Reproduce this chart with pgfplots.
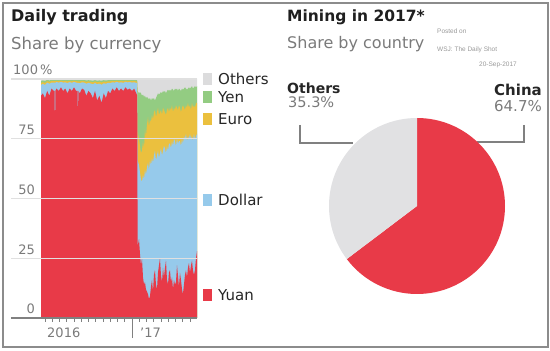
\documentclass[border=0pt]{standalone}
\usepackage{pgfplots}
\pgfplotsset{compat=1.18}
\usepackage{pgfplotstable}
\usepackage{fontspec}
\setmainfont{DejaVu Sans}
\newfontfamily\smallfont{Liberation Sans}
\definecolor{yuan}{HTML}{E83A48}
\definecolor{dollar}{HTML}{96CAEB}
\definecolor{euro}{HTML}{EBC03E}
\definecolor{yen}{HTML}{93CC82}
\definecolor{oth}{HTML}{DCDCDD}
\definecolor{piegray}{HTML}{E1E1E3}
\definecolor{txtgray}{HTML}{7A7A7A}
\definecolor{framec}{HTML}{8C8C8C}

% cumulative shares (percent): yuan, +dollar, +euro, +yen, +others
\pgfplotstableread{
m yuan dol eur yen all
-0.55 93 97.5 98.3 99.2 100
-0.30 94 98.0 98.7 99.4 100
0.00 92 97.5 98.3 99.2 100
0.30 95 98.5 99.1 99.6 100
0.60 93 98.0 98.8 99.4 100
0.90 96 98.5 99.1 99.6 100
1.20 95 98.5 99.1 99.6 100
1.33 95 98.5 99.1 99.6 100
1.38 69 98.5 99.1 99.6 100
1.43 95 98.5 99.1 99.6 100
1.60 96 98.7 99.2 99.6 100
1.90 95 98.5 99.1 99.6 100
2.20 96.5 98.8 99.3 99.7 100
2.50 95 98.5 99.1 99.6 100
2.80 96 98.6 99.2 99.6 100
3.10 94 98.3 99.0 99.5 100
3.40 96 98.7 99.2 99.6 100
3.70 95 98.4 99.0 99.5 100
4.00 96.5 98.8 99.3 99.7 100
4.30 95 98.5 99.1 99.6 100
4.50 95 98.4 99.0 99.5 100
4.55 78 98.4 99.0 99.5 100
4.60 95 98.4 99.0 99.5 100
4.80 94 98.2 98.9 99.5 100
5.10 96 98.6 99.2 99.6 100
5.40 95.5 98.5 99.1 99.6 100
5.70 93 98.0 98.8 99.4 100
6.00 95 98.4 99.0 99.5 100
6.30 94 98.1 98.8 99.4 100
6.60 92 97.8 98.6 99.3 100
6.90 95 98.3 99.0 99.5 100
7.20 91 97.8 98.6 99.3 100
7.50 93 98.1 98.8 99.4 100
7.80 90 97.6 98.5 99.3 100
8.10 94 98.2 98.9 99.5 100
8.40 92 98.0 98.8 99.4 100
8.70 95 98.4 99.0 99.5 100
9.00 94 98.3 99.0 99.5 100
9.30 96 98.6 99.2 99.6 100
9.60 95 98.5 99.1 99.6 100
9.90 96.5 98.8 99.3 99.7 100
10.20 95 98.5 99.1 99.6 100
10.50 96 98.6 99.2 99.6 100
10.80 95 98.4 99.0 99.5 100
11.10 96.5 98.8 99.3 99.7 100
11.40 95.5 98.6 99.2 99.6 100
11.70 96 98.7 99.2 99.6 100
12.00 95 98.5 99.1 99.6 100
12.30 96 98.6 99.2 99.6 100
12.60 94 98.4 99.0 99.5 100
12.72 93 98.2 98.9 99.5 100
12.78 30 66 78 95 100
12.97 33 64 75 94 100
13.10 27 61 72 94.5 100
13.24 22 58 69 94 100
13.38 25 57 70 93 100
13.52 17 60 74 93.5 100
13.66 14 58 71 92.5 100
13.79 15 62 79 93 100
13.93 12 60 76 92 100
14.07 11 63 81 92.5 100
14.21 10 65 84 92 100
14.34 8 62 80 91.5 100
14.48 9 66 83 92 100
14.62 13 64 82 91 100
14.76 16 67 85 92 100
14.90 11 65 83 91.5 100
15.03 18 68 86 92 100
15.17 20 70 87 91 100
15.31 14 66 84 92 100
15.45 12 68 86 93 100
15.59 19 70 88 94 100
15.72 22 67 85 93.5 100
15.86 25 69 86 94 100
16.00 18 71 87 94.5 100
16.14 15 68 85 94 100
16.28 21 70 88 95 100
16.41 17 72 87 94.5 100
16.55 21 71 86 95 100
16.69 24 69 85 94 100
16.83 16 72 87 95 100
16.97 14 70 88 95.5 100
17.10 19 73 86 95 100
17.24 20 73 88 95.5 100
17.38 15 71 87 95 100
17.52 17 74 89 96 100
17.66 12 72 86 95.5 100
17.79 16 75 88 95 100
17.93 14 74 87 96 100
18.07 15 72 89 95.5 100
18.21 22 75 88 96 100
18.34 18 73 87 95 100
18.48 13 74 89 96 100
18.62 19 74 88 95.5 100
18.76 16 72 86 95 100
18.90 12 75 88 96 100
19.03 10 73 89 95.5 100
19.17 14 76 88 96 100
19.31 18 75 87 96.5 100
19.45 20 77 89 96 100
19.59 17 74 88 95.5 100
19.72 21 76 90 96 100
19.86 23 75 88 96.5 100
20.00 19 77 89 96 100
20.14 22 75 87 96.5 100
20.28 24 76 90 97 100
20.41 20 74 88 96 100
20.55 18 77 89 96.5 100
20.69 20 75 88 97 100
20.83 25 76 90 96.5 100
20.97 28 77 90 97 100
}\trade

\def\chinashare{64.7}
\def\othershare{35.3}

\begin{document}
\begin{tikzpicture}[x=1pt,y=1pt]
% frame
\draw[framec, line width=1.3pt] (3,4) rectangle (548,348);

% ---------- left panel ----------
\node[anchor=base west, inner sep=0pt, font=\fontsize{16}{18}\selectfont\bfseries, text=black!88] at (11,329.3) {Daily trading};
\node[anchor=base west, inner sep=0pt, font=\fontsize{16.5}{18}\selectfont, text=txtgray] at (11,301.7) {Share by currency};

\begin{axis}[
  at={(11pt,33pt)}, anchor=south west, scale only axis,
  width=186pt, height=239pt,
  xmin=-4.69, xmax=20.97, ymin=0, ymax=100,
  axis on top, clip=false,
  axis lines*=left,
  y axis line style={draw=none},
  x axis line style={draw=black!50, line width=1.4pt},
  ytick={25,50,75,100}, yticklabels={}, ytick style={draw=none},
  ymajorgrids, grid style={draw=black!12, line width=1.2pt},
  xtick={0,...,20}, xticklabels={},
  tick align=outside,
  xtick style={draw=black!50, line width=0.8pt},
  major tick length=4pt,
  extra x ticks={12}, extra x tick labels={},
  extra x tick style={major tick length=20pt, tick style={line width=1.4pt}},
]
\addplot[fill=oth, draw=none] table[x=m, y=all]{\trade} \closedcycle;
\addplot[fill=yen, draw=none] table[x=m, y=yen]{\trade} \closedcycle;
\addplot[fill=euro, draw=none] table[x=m, y=eur]{\trade} \closedcycle;
\addplot[fill=dollar, draw=none] table[x=m, y=dol]{\trade} \closedcycle;
\addplot[fill=yuan, draw=none] table[x=m, y=yuan]{\trade} \closedcycle;

\begin{scope}[font=\fontsize{13}{15}\selectfont, text=txtgray]
\node[anchor=base west, inner sep=0pt, yshift=4pt] at (axis cs:-4.41,100) {100\,\%};
\node[anchor=base east, inner sep=0pt, yshift=4pt] at (axis cs:-1.38,75) {75};
\node[anchor=base east, inner sep=0pt, yshift=4pt] at (axis cs:-1.38,50) {50};
\node[anchor=base east, inner sep=0pt, yshift=4pt] at (axis cs:-1.38,25) {25};
\node[anchor=base east, inner sep=0pt, yshift=4pt] at (axis cs:-1.38,0) {0};
\node[anchor=base west, inner sep=0pt, yshift=-20pt] at (axis cs:0.28,0) {2016};
\node[anchor=base west, inner sep=0pt, yshift=-20pt] at (axis cs:13.1,0) {'17};
\end{scope}
\end{axis}

% legend
\fill[oth]    (203,266) rectangle (212,278);
\fill[yen]    (203,247.5) rectangle (212,259.5);
\fill[euro]   (203,226) rectangle (212,238);
\fill[dollar] (203,145) rectangle (212,157);
\fill[yuan]   (203,50) rectangle (212,62);
\begin{scope}[font=\fontsize{15}{17}\selectfont, text=black!85]
\node[anchor=base west, inner sep=0pt] at (218,266.7) {Others};
\node[anchor=base west, inner sep=0pt] at (218,248.2) {Yen};
\node[anchor=base west, inner sep=0pt] at (218,226.7) {Euro};
\node[anchor=base west, inner sep=0pt] at (218,145.7) {Dollar};
\node[anchor=base west, inner sep=0pt] at (218,50.7) {Yuan};
\end{scope}

% ---------- right panel ----------
\node[anchor=base west, inner sep=0pt, font=\fontsize{15.5}{18}\selectfont\bfseries, text=black!88] at (287,329.5) {Mining in 2017*};
\node[anchor=base west, inner sep=0pt, font=\fontsize{16}{18}\selectfont, text=txtgray] at (287,302) {Share by country};
\begin{scope}[font=\smallfont\fontsize{6.5}{7}\selectfont, text=black!40]
\node[anchor=base west, inner sep=0pt] at (437,317) {Posted on};
\node[anchor=base west, inner sep=0pt] at (437,299) {WSJ: The Daily Shot};
\node[anchor=base east, inner sep=0pt] at (517,284) {20-Sep-2017};
\end{scope}
\node[anchor=base west, inner sep=0pt, font=\fontsize{14}{16}\selectfont\bfseries, text=black!85] at (287,257.7) {Others};
\node[anchor=base west, inner sep=0pt, font=\fontsize{14.5}{16}\selectfont, text=txtgray] at (288,243.7) {35.3\%};
\node[anchor=base east, inner sep=0pt, font=\fontsize{15}{16}\selectfont\bfseries, text=black!85] at (542,255.3) {China};
\node[anchor=base east, inner sep=0pt, font=\fontsize{15}{16}\selectfont, text=txtgray] at (542,239.3) {64.7\%};

\draw[black!50, line width=1.1pt] (300,226) -- (300,208) -- (353,208);
\draw[black!50, line width=1.1pt] (524,226) -- (524,209) -- (477,209);

\begin{axis}[
  at={(417pt,145pt)}, anchor=origin, hide axis, scale only axis,
  width=176pt, height=176pt,
  xmin=-1, xmax=1, ymin=-1, ymax=1,
]
\pgfmathsetmacro{\chinaend}{90-3.6*\chinashare}
\pgfmathsetmacro{\othend}{90+3.6*\othershare}
\fill[yuan] (axis cs:0,0) -- (axis cs:0,1) arc[start angle=90, end angle=\chinaend, radius=88pt] -- cycle;
\fill[piegray] (axis cs:0,0) -- (axis cs:0,1) arc[start angle=90, end angle=\othend, radius=88pt] -- cycle;
\end{axis}

\pgfresetboundingbox
\path (0,0) rectangle (550,351);
\end{tikzpicture}
\end{document}
